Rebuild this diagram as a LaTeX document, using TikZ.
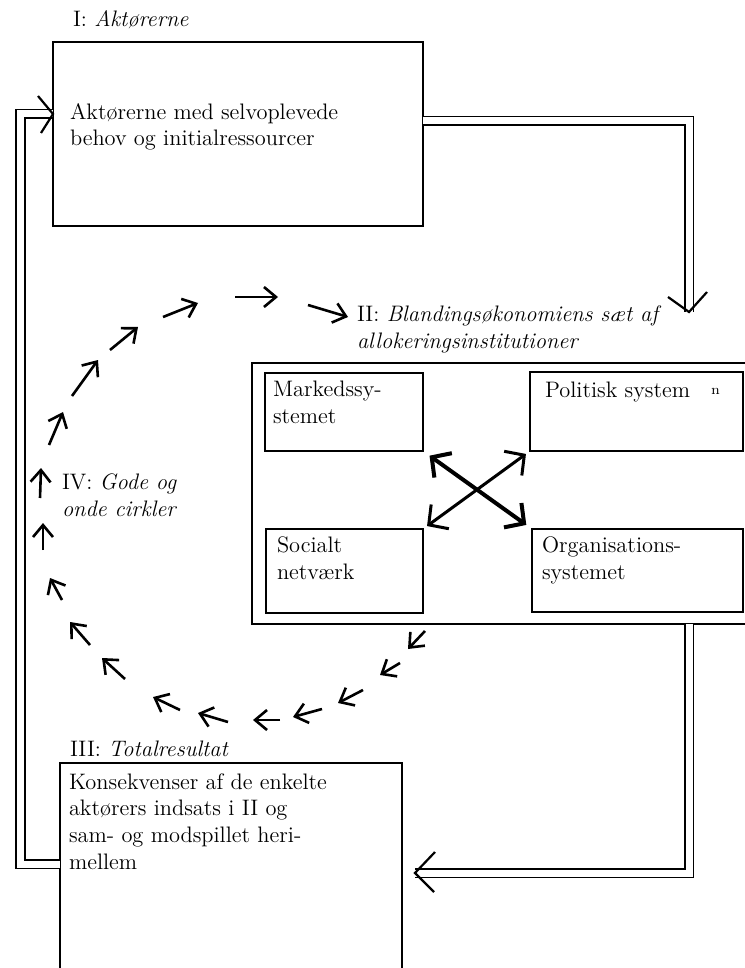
\documentclass[tikz,border=0pt]{standalone}
\usepackage{fontspec}
\usetikzlibrary{arrows.meta}
\begin{document}
\begin{tikzpicture}[x=0.5pt,y=-0.5pt,
  box/.style={draw, line width=1.2pt, inner sep=0pt, outer sep=0pt},
  txt/.style={inner sep=0pt, outer sep=0pt, anchor=base west, align=left, font=\fontsize{11.2}{13.3}\selectfont},
  dbl/.style={draw, line width=0.9pt, double=white, double distance=3.5pt},
  vhead/.style={draw, line width=1.1pt},
  circarr/.style={draw, line width=1.3pt, -{Straight Barb[length=6pt,width=10pt]}},
  xarr/.style={draw, {Straight Barb[length=7pt,width=15pt]}-{Straight Barb[length=7pt,width=15pt]}}
]
\useasboundingbox (0,0) rectangle (744,968);

% boxes
\node[box, minimum width=185pt, minimum height=92pt] (boxI) at (238,134) {};
\node[box, minimum width=254pt, minimum height=130.5pt] (boxII) at (506,493.5) {};
\node[box, minimum width=79pt, minimum height=39pt] (mk) at (344,412) {};
\node[box, minimum width=106.5pt, minimum height=39.5pt] (pol) at (636.5,411.5) {};
\node[box, minimum width=78.5pt, minimum height=42pt] (soc) at (344.5,571) {};
\node[box, minimum width=105.5pt, minimum height=41.5pt] (org) at (637.5,570.5) {};
\node[box, minimum width=171pt, minimum height=125pt] (boxIII) at (231,888) {};

% texts (base anchor = baseline of the last line)
\node[txt] (lI) at (73,27) {I: \textit{Aktørerne}};
\node[txt] (tI) at (70,146) {Aktørerne med selvoplevede\\behov og initialressourcer};
\node[txt] (lII) at (357,348) {II: \textit{Blandingsøkonomiens sæt af}\\\textit{allokeringsinstitutioner}};
\node[txt] (tmk) at (273,423) {Markedssy-\\stemet};
\node[txt] (tpol) at (545,397) {Politisk system};
\node[txt, font=\fontsize{7}{8}\selectfont] (tn) at (711,394) {n};
\node[txt] (tsoc) at (277,579) {Socialt\\netværk};
\node[txt] (torg) at (542,579) {Organisations-\\systemet};
\node[txt] (lIV) at (62,516) {IV: \textit{Gode og}\\\textit{onde cirkler}};
\node[txt] (lIII) at (70,756) {III: \textit{Totalresultat}};
\node[txt] (tIII) at (69,869) {Konsekvenser af de enkelte\\aktørers indsats i II og\\sam- og modspillet heri-\\mellem};

% double arrow I -> II
\coordinate (ta) at (689,121);
\coordinate (tipA) at (689,312);
\draw[dbl] (boxI.east |- ta) -- (ta) -- (tipA);
\draw[vhead] (tipA) ++(-21,-15) -- (tipA) -- ++(18,-20);

% double arrow II -> III
\coordinate (bc) at (689,873);
\coordinate (tipB) at (415,873);
\draw[dbl] (boxII.south -| bc) -- (bc) -- (tipB);
\draw[vhead] (tipB) ++(20,-21) -- (tipB) -- ++(19,19);

% double arrow III -> I
\coordinate (rl) at (20.5,864);
\coordinate (ru) at (20.5,114);
\coordinate (tipC) at (boxI.west |- ru);
\draw[dbl] (boxIII.west |- rl) -- (rl) -- (ru) -- (tipC);
\draw[vhead] (tipC) ++(-15,-18) -- (tipC) -- ++(-12,19);

% cross arrows
\draw[xarr, line width=2pt, shorten <=4pt, shorten >=3.5pt] (mk.south east) -- (org.north west);
\draw[xarr, line width=1.5pt, shorten <=2.5pt, shorten >=2.5pt] (soc.north east) -- (pol.south west);

% circle of small arrows
\foreach \xa/\ya/\xb/\yb in {
  40/498/41/468, 43/550/43/523, 49/445/63/412, 72/396/98/360,
  110/350/138/327, 163/317/198/303, 235/297/278/297, 308/305/348/317,
  62/600/50/578, 90/645/70/622, 125/679/102/658, 180/710/153/697,
  228/722/198/713, 280/720/253/720, 322/709/293/717, 363/690/338/703,
  400/663/380/675, 425/631/408/649}
  \draw[circarr] (\xa,\ya) -- (\xb,\yb);
\end{tikzpicture}
\end{document}
